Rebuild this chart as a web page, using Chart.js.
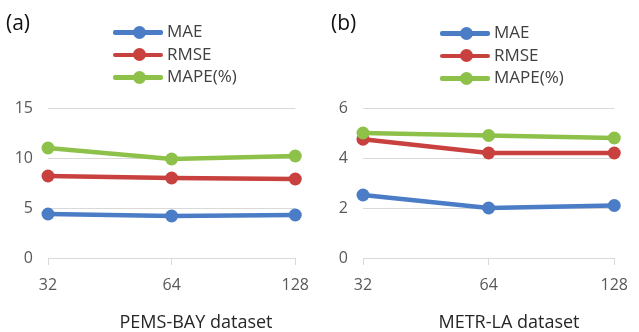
<!DOCTYPE html>
<html>
<head>
<meta charset="utf-8">
<script src="https://cdn.jsdelivr.net/npm/chart.js@4"></script>
<style>
  html, body { margin: 0; padding: 0; background: #ffffff; }
  #wrap { position: relative; width: 639px; height: 332px; overflow: hidden; background: #fff; font-family: "Open Sans", sans-serif; }
  .panel { position: absolute; top: 0; height: 332px; }
  .tag { position: absolute; font-size: 21px; color: #111; line-height: 1; }
  .leg { position: absolute; }
  .row { position: absolute; height: 22px; white-space: nowrap; }
  .ln { position: absolute; top: 9px; height: 4.5px; border-radius: 2px; }
  .dot { position: absolute; top: 4.5px; width: 13px; height: 13px; border-radius: 50%; }
  .lt { position: absolute; top: -1px; font-size: 17px; color: #404040; line-height: 22px; }
  .xt { position: absolute; top: 309px; width: 240px; margin-left: -120px; text-align: center; font-size: 18px; color: #262626; line-height: 24px; white-space: nowrap; }
</style>
</head>
<body>
<div id="wrap">
  <div class="panel" style="left:0;width:320px;"><canvas id="c1" width="320" height="332"></canvas></div>
  <div class="panel" style="left:320px;width:319px;"><canvas id="c2" width="319" height="332"></canvas></div>
  <div class="tag" style="left:6px;top:12px;">(a)</div>
  <div class="tag" style="left:331px;top:12px;">(b)</div>
  <div class="leg" id="leg1" style="left:113px;top:21px;"></div>
  <div class="leg" id="leg2" style="left:440px;top:22px;"></div>
  <div class="xt" id="xt1" style="left:196px;"></div>
  <div class="xt" id="xt2" style="left:509px;"></div>
</div>
<script>
// ---- data ----
const categories = ['32', '64', '128'];
const seriesNames = ['MAE', 'RMSE', 'MAPE(%)'];
const pemsMAE  = [4.4, 4.2, 4.3];
const pemsRMSE = [8.2, 8.0, 7.9];
const pemsMAPE = [11.0, 9.9, 10.2];
const metrMAE  = [2.52, 2.0, 2.1];
const metrRMSE = [4.75, 4.2, 4.2];
const metrMAPE = [5.0, 4.9, 4.8];
const pemsTicks = [0, 5, 10, 15];
const metrTicks = [0, 2, 4, 6];
const titles = ['PEMS-BAY dataset', 'METR-LA dataset'];

const colors = ['#4A7DC6', '#C8413E', '#8DC14A'];

document.getElementById('xt1').textContent = titles[0];
document.getElementById('xt2').textContent = titles[1];

function buildLegend(id) {
  const el = document.getElementById(id);
  seriesNames.forEach((name, i) => {
    const r = document.createElement('div');
    r.className = 'row';
    r.style.top = (i * 22.5) + 'px';
    r.innerHTML = '<div class="ln" style="left:0;width:50px;background:' + colors[i] + '"></div>' +
      '<div class="dot" style="left:19.5px;background:' + colors[i] + '"></div>' +
      '<div class="lt" style="left:54px">' + name + '</div>';
    el.appendChild(r);
  });
}
buildLegend('leg1');
buildLegend('leg2');

function makeChart(canvasId, values, ticks, yWidth, padRight) {
  const ds = values.map((v, i) => ({
    label: seriesNames[i],
    data: v,
    borderColor: colors[i],
    backgroundColor: colors[i],
    pointBackgroundColor: colors[i],
    pointBorderColor: colors[i],
    pointRadius: 6.5,
    pointBorderWidth: 0,
    borderWidth: 4.5,
    tension: 0,
    clip: false,
    order: 2 - i
  }));
  return new Chart(document.getElementById(canvasId), {
    type: 'line',
    data: { labels: categories, datasets: ds },
    options: {
      responsive: false,
      animation: false,
      devicePixelRatio: 1,
      layout: { padding: { left: 0, top: 108, right: padRight, bottom: 0 } },
      plugins: { legend: { display: false }, tooltip: { enabled: false } },
      scales: {
        x: {
          type: 'category',
          offset: false,
          afterFit: s => { s.height = 74; },
          grid: { drawOnChartArea: false, drawTicks: true, tickLength: 7, color: '#d9d9d9', lineWidth: 1 },
          border: { display: true, color: '#d9d9d9', width: 1 },
          ticks: { color: '#595959', font: { family: 'Open Sans', size: 16 }, padding: 11, maxRotation: 0 }
        },
        y: {
          min: ticks[0],
          max: ticks[ticks.length - 1],
          afterFit: s => { s.width = yWidth; },
          afterBuildTicks: s => { s.ticks = ticks.map(v => ({ value: v })); },
          grid: { drawTicks: false, color: '#d9d9d9', lineWidth: 1 },
          border: { display: false },
          ticks: { color: '#595959', font: { family: 'Open Sans', size: 16 }, padding: 15 }
        }
      }
    }
  });
}

makeChart('c1', [pemsMAE, pemsRMSE, pemsMAPE], pemsTicks, 48, 23);
makeChart('c2', [metrMAE, metrRMSE, metrMAPE], metrTicks, 43, 16);
</script>
</body>
</html>
